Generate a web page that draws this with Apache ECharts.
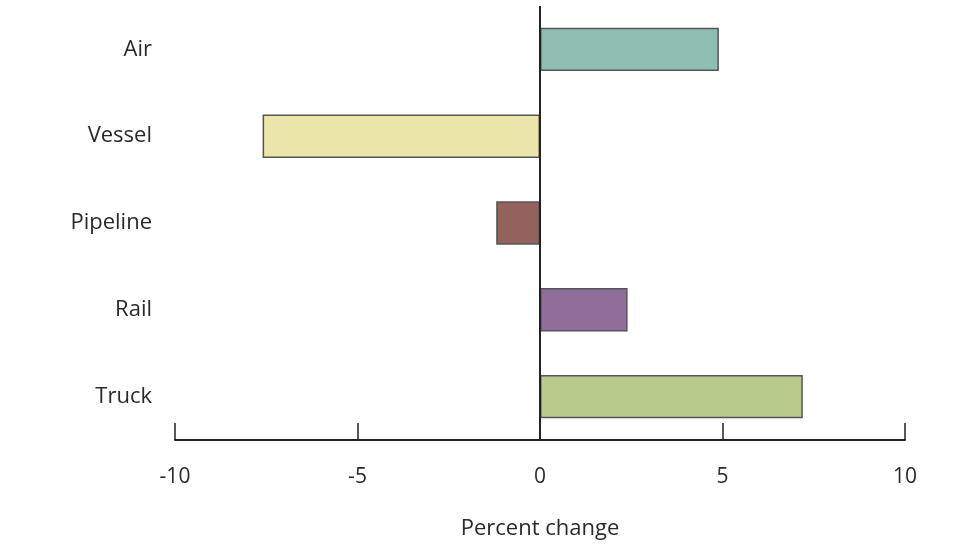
<!DOCTYPE html>
<html><head><meta charset="utf-8">
<script src="https://cdn.jsdelivr.net/npm/echarts@6/dist/echarts.min.js"></script>
<style>html,body{margin:0;padding:0;background:#fff}#c{width:980px;height:552px}</style>
</head><body><div id="c"></div>
<script>
var categories = ['Truck', 'Rail', 'Pipeline', 'Vessel', 'Air'];
var values = [7.2, 2.4, -1.2, -7.6, 4.9];
var colors = ['#b8cb8c', '#8f6e99', '#94625c', '#ece6aa', '#8fbfb3'];
var xTicks = { min: -10, max: 10, interval: 5 };
var xName = 'Percent change';

var chart = echarts.init(document.getElementById('c'));
var font = 'Open Sans';
chart.setOption({
  animation: false,
  backgroundColor: '#fff',
  grid: { left: 175, right: 75, top: 6, bottom: 112, containLabel: false },
  xAxis: {
    type: 'value', min: xTicks.min, max: xTicks.max, interval: xTicks.interval,
    position: 'bottom',
    axisLine: { show: true, onZero: false, lineStyle: { color: '#222', width: 2 } },
    axisTick: { show: true, inside: true, length: 17, lineStyle: { color: '#222', width: 1.5 } },
    splitLine: { show: false },
    axisLabel: { color: '#2a2a2a', fontSize: 21, fontFamily: font, margin: 27 },
    name: xName, nameLocation: 'middle', nameGap: 78,
    nameTextStyle: { color: '#2a2a2a', fontSize: 22, fontFamily: font }
  },
  yAxis: {
    type: 'category', data: categories,
    axisLine: { show: false }, axisTick: { show: false },
    axisLabel: { color: '#2a2a2a', fontSize: 22, fontFamily: font, margin: 23 }
  },
  series: [{
    type: 'bar',
    barWidth: '50%',
    data: values.map(function (v, i) {
      return { value: v, itemStyle: { color: colors[i], borderColor: '#555', borderWidth: 1.5 } };
    }),
    markLine: {
      silent: true, symbol: 'none', label: { show: false },
      lineStyle: { color: '#222', width: 2, type: 'solid' },
      data: [{ xAxis: 0 }]
    }
  }]
});
</script></body></html>
